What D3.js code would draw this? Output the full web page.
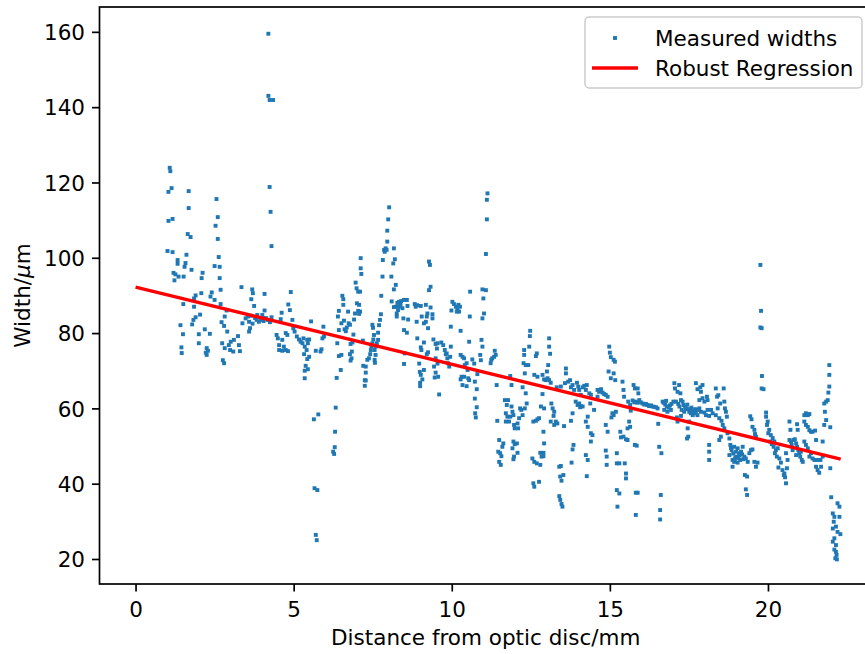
<!DOCTYPE html>
<html>
<head>
<meta charset="utf-8">
<script src="https://cdn.jsdelivr.net/npm/d3@7"></script>
<style>
  html, body { margin: 0; padding: 0; background: #fff; }
  svg text { font-family: "DejaVu Sans", sans-serif; fill: #000; }
</style>
</head>
<body>
<svg id="chart" width="865" height="654"></svg>
<script>
'use strict';

// ─── Дані (відстань від диска, мм ; ширина, мкм) ───
const segNear = [[1.08,123.9],[1.1,123],[1.14,118.5],[1.04,117.5],[1.68,117.7],[1.68,113.2],[1.04,109.8],[1.17,110.3],[1.65,106.3],[1.74,105.5],[2.56,115.6],[2.6,110.8],[2.53,108.5],[2.6,105],[1.01,101.8],[1.17,101.5],[1.33,99.4],[1.33,98.4],[1.58,98.6],[1.55,97.6],[1.61,100.8],[1.77,96.8],[1.2,96],[1.26,95.6],[1.36,95],[1.23,94],[1.52,95],[2.63,100.2],[2.5,97.8],[2.66,97.6],[2.66,94.6],[2.12,96],[2.09,94.6]];

const segDisc = [[2.08,90.6],[1.90,90.0],[1.85,89.2],[2.41,90.8],[2.37,89.7],[2.50,88.8],[2.69,91.5],[2.69,87.7],[2.88,86],[2.82,84.4],[1.85,87],[1.51,87.7],[1.42,82.1],[1.50,79.7],[1.83,83.5],[1.90,84.2],[2.04,84.9],[1.79,82.3],[2.19,81],[2.0,79.7],[2.35,79.8],[2.0,77.3],[1.45,76.2],[1.46,74.7],[2.25,76],[2.29,75.3],[2.22,74.8],[2.25,74.2],[2.72,82.9],[2.80,81.9],[2.9,80.4],[2.74,77.3],[2.82,76],[2.95,76.8],[3.01,77.7],[3.11,78.2],[3.24,79.2],[3.27,76.8],[3.30,75.2],[2.99,75.5],[3.09,75.1],[2.76,72.8],[2.80,72],[3.38,82.6],[3.48,83.9],[3.55,84.4],[3.59,83],[3.62,81.3],[3.59,80.4],[3.69,91.6],[3.71,90.6],[3.66,89],[3.75,87.2],[4.08,90.4],[4.08,86],[3.83,83.5],[3.96,83.5],[4.01,84.8],[3.90,83],[3.35,92.2],[3.65,84.6],[3.78,84],[3.85,84.8],[4.05,83.2],[4.12,84],[4.18,83.5],[4.25,82.9],[4.3,84.2],[3.7,82.5],[4.46,79.5],[4.50,78.6],[4.54,76.8],[4.64,78.2],[4.54,75.5],[4.64,75.3],[4.69,76.4],[4.75,75.5],[4.82,75.2],[4.75,80],[4.80,79.5],[4.62,85.4],[4.59,83.7],[4.83,87.6],[4.91,90.9],[4.88,86.1],[4.96,83.5],[4.99,81.3],[5.03,80.4],[5.10,79.1],[5.17,78.3],[5.22,77.7],[5.28,77.3],[5.31,78.6],[5.35,76.4],[5.43,78.2],[5.49,78.3],[5.45,77.3],[5.41,75.5],[5.33,74.4],[5.49,73.7],[5.43,73.1],[5.38,71.3],[5.45,70.4],[5.35,70],[5.35,68],[5.55,83.1],[5.70,75.3],[5.85,75.1],[5.88,75.7],[5.91,78.6],[5.94,81.7],[5.96,79.1],[5.64,57.1],[5.78,58.4],[5.66,38.8],[5.75,38.3],[5.70,26.4],[5.73,25]];

const segSpike = [[4.2,159.5],[4.2,143],[4.24,141.9],[4.35,141.9],[4.24,118.8],[4.27,112.2],[4.3,103.1]];

const segMid = [[6.36,68.1],[6.33,60.2],[6.49,70.2],[6.43,73.9],[6.51,74.2],[6.38,77.3],[6.43,80.8],[6.40,84.4],[6.43,85.9],[6.54,89.9],[6.57,89],[6.57,87.5],[6.51,82.6],[6.59,83.3],[6.61,81],[6.68,81.5],[6.72,85.7],[6.74,82.6],[6.78,82.2],[6.65,80.5],[6.89,79.6],[6.80,77.1],[6.86,77.5],[6.84,75.1],[6.83,73.3],[6.80,72.7],[6.78,74.4],[6.91,83.6],[6.94,85.2],[7.0,87.9],[7.07,87.5],[7.04,85.9],[7.1,85.7],[7.07,85.1],[6.96,93.4],[6.99,91.9],[7.04,91],[7.1,91],[7.12,99.9],[7.12,97.2],[7.14,95.7],[7.19,78],[7.2,71.3],[7.28,71.1],[7.28,69.5],[7.25,67.5],[7.28,67.4],[7.25,66],[7.33,72.9],[7.38,73.3],[7.42,74.4],[7.44,75.5],[7.46,76.4],[7.49,77.3],[7.52,78.3],[7.54,79.5],[7.56,75.5],[7.59,76.4],[7.63,77.3],[7.67,78.2],[7.59,74.2],[7.56,72.9],[7.57,72.1],[7.49,82.2],[7.51,81.4],[7.67,80.1],[7.7,82.1],[7.73,83.5],[7.76,85],[7.77,89.9],[7.81,95],[7.82,99.4],[7.86,102.1],[7.91,102.5],[7.88,101.6],[7.94,102.1],[7.96,104.3],[7.96,107.2],[7.99,110.2],[8.02,113.4],[8.09,95],[8.17,91.6],[8.15,98.5],[8.2,99.6],[8.17,102.5],[8.23,92.8],[8.1,88.4],[8.17,86.9],[8.23,87],[8.28,88],[8.33,87],[8.3,86.1],[8.26,85.2],[8.26,84.4],[8.38,87.5],[8.4,88.5],[8.44,86.6],[8.49,88.8],[8.58,88.8],[8.6,87.2],[8.33,88.3],[8.49,80.8],[8.58,80.1],[8.62,83.6],[8.47,83.9],[8.49,71.8],[8.51,74.6],[8.83,87.7],[8.91,87.4],[8.86,87],[9.02,87.2],[9.05,84.4],[9.18,87.5],[9.21,84.4],[9.23,85.2],[9.12,82.6],[9.18,83],[9.25,81.3],[8.89,83],[9.33,86.8],[9.39,85],[9.39,83.9],[9.28,99],[9.31,98.1],[9.28,91.4],[9.33,92.3],[8.91,78.6],[9.02,76.2],[9.04,75.5],[8.97,71.9],[8.99,69.7],[9.02,68.9],[9.0,66.8],[9.0,65.9],[9.12,77.5],[9.21,74.4],[9.25,74.9],[9.12,70.2],[9.07,67.7],[9.42,78.3],[9.49,77.1],[9.55,77.3],[9.53,75.9],[9.49,73.3],[9.55,71.9],[9.49,69.5],[9.46,68.2],[9.57,68.4],[9.44,71.1],[9.6,63.7],[9.67,77.5],[9.73,76.8],[9.78,75.5],[9.81,74.4],[9.86,73.3],[9.92,71.1],[9.84,74.6],[9.88,72],[9.97,76.4],[9.95,73.7],[10.02,88.3],[10.07,87.7],[10.13,87],[10.18,86.3],[10.21,87.5],[10.26,87],[10.23,85.7],[9.99,86],[10.16,85.7],[9.97,81.7],[10.28,80.6],[10.28,74.2],[10.34,73.7],[10.39,73.3],[10.47,72],[10.41,71.5],[10.5,70.2],[10.31,68.4],[10.34,66.2],[10.47,65.9],[10.28,67.7],[10.39,68.4],[10.52,68],[10.55,67.5],[10.58,91],[10.55,77.7],[10.57,84.4],[10.65,73],[10.71,71.9],[10.73,67.1],[10.73,62.6],[10.79,65.1],[10.79,60.3],[10.74,58.7],[10.76,57.6],[10.81,69.1],[10.92,72.8],[10.9,74.2],[10.97,76.4],[10.94,78.2],[10.97,83.9],[11.02,85.2],[11.0,89.2],[10.97,91.6],[11.08,91.4],[11.08,101],[11.11,110.2],[11.11,115.4],[11.13,117.1],[11.23,72],[11.25,72.9],[11.28,73.3],[11.34,73.7],[11.36,75.3],[11.39,74.2],[11.42,66.2],[11.44,56.7],[6.31,53.8],[6.3,49.7],[6.25,48.5],[6.28,47.9]];

const segFar = [[11.5,51.6],[11.47,48.5],[11.53,48.1],[11.57,47.3],[11.6,49.8],[11.63,50.7],[11.5,45.8],[11.55,45],[11.68,62.2],[11.74,60.9],[11.78,62.2],[11.71,58.7],[11.76,57.8],[11.71,56.5],[11.81,56.5],[11.85,57.8],[11.89,60.5],[11.92,59.1],[11.95,58.2],[11.97,55.6],[11.99,54.7],[12.08,56],[12.1,54.7],[12.13,57.4],[12.16,60],[12.2,59.6],[12.24,58.2],[11.95,51.2],[11.99,50.5],[12.06,50.7],[12.08,48.2],[11.97,47.2],[11.95,46.5],[11.92,49.4],[11.85,68.6],[11.89,66.2],[12.29,75.5],[12.29,74.2],[12.27,72],[12.34,71.5],[12.31,69.3],[12.42,71.5],[12.48,80.6],[12.47,79.2],[12.45,76.4],[12.24,65.6],[12.34,64],[12.37,61.3],[12.31,60],[12.58,56.5],[12.66,56.7],[12.71,57.1],[12.76,57.4],[12.55,46.7],[12.61,45.8],[12.69,45.4],[12.8,45],[12.84,47.2],[12.9,48.2],[12.58,40.1],[12.61,39.2],[12.76,40.5],[12.69,74.6],[12.66,73.9],[12.61,68.9],[12.71,68.4],[12.87,68.9],[12.92,67.7],[12.97,67.5],[13.03,68],[13.08,67.5],[13.13,66.8],[13.08,78.6],[13.08,76.4],[13.11,74.5],[13.05,71.5],[13.01,69.8],[12.82,60.5],[12.92,60],[12.87,63.8],[13.15,61.3],[13.19,60],[13.24,59.1],[13.22,58],[13.13,56.5],[12.9,53.8],[12.92,50.7],[12.8,48.2],[12.9,47.3],[13.29,56.5],[13.24,55.6],[13.34,56],[13.55,55.3],[13.4,44.5],[13.45,44.7],[13.43,41.9],[13.47,40.8],[13.53,42.3],[13.4,36.7],[13.43,35.7],[13.47,34.6],[13.5,33.9],[13.32,65.6],[13.45,65.8],[13.58,66.7],[13.61,70.6],[13.61,69.3],[13.68,67.1],[13.74,67.5],[13.77,65.6],[13.82,66.2],[13.87,64.9],[13.96,66.8],[14.0,65.8],[14.03,64.9],[14.08,63.6],[14.14,65.6],[14.19,66],[14.24,64.9],[14.27,66.2],[14.35,64],[14.4,63.6],[13.82,58.7],[13.77,56.7],[13.85,50.3],[13.82,49.1],[13.79,45.6],[13.92,61.8],[13.98,60.9],[14.03,61.3],[14.08,60.6],[14.06,60.3],[14.14,60.5],[14.3,57.8],[14.24,56.5],[14.3,55.1],[14.4,53.4],[14.45,52.9],[14.4,51.2],[14.24,47.6],[14.3,46.3],[14.27,42],[14.38,61.3],[14.5,59.6],[14.61,64.9],[14.66,64.4],[14.72,65.1],[14.77,64.2],[14.82,63.8],[14.61,63.1],[14.87,63.6],[14.93,63.1],[14.87,55.6],[14.93,53.8],[14.87,48.8],[14.9,47.2],[14.9,45],[14.98,76.4],[15.0,74.8],[15.03,73.6],[15.12,72.9],[15.16,72.4],[14.96,69.8],[15.03,68],[15.12,69.3],[15.17,67.5],[15.05,57.6],[15.12,58.2],[15.19,59.1],[15.08,58.7],[15.22,48.1],[15.22,45.4],[15.3,45.4],[15.33,53.8],[15.35,52.3],[15.43,52.5],[15.51,51.8],[15.56,51.6],[15.47,45.4],[15.51,42.7],[15.51,41.4],[15.22,38.3],[15.3,37.4],[15.24,33.9],[15.4,67.1],[15.43,64.9],[15.45,63.1],[15.58,61.8],[15.64,60.9],[15.66,59.4],[15.61,56.5],[15.64,55.1],[15.56,54.7],[15.75,66.2],[15.79,65.3],[15.88,65.3],[15.9,64],[15.72,62.1],[15.82,61.8],[15.93,62.2],[16.03,61.3],[16.14,61.2],[16.24,60.6],[16.35,60.5],[16.46,60.3],[16.51,60],[15.77,61.6],[15.87,61.5],[15.98,61.6],[16.09,61],[16.19,60.9],[16.3,60.8],[16.4,60.4],[15.79,50.3],[15.85,50.1],[15.82,37.6],[15.88,37.6],[15.82,31.7],[16.53,55.9],[16.56,49.8],[16.63,48.1],[16.61,37],[16.59,33],[16.59,30.5],[16.67,61.8],[16.72,59.6],[16.82,59.1],[16.93,59.6],[16.7,61.5],[16.75,61],[16.8,60.5],[16.86,60.2],[16.9,60.8],[16.95,61.2],[16.78,62]];

const segTail = [[17.04,66.7],[17.19,66.2],[17.06,65.3],[17.14,64.4],[17.23,64],[17.25,62.2],[17.01,61.8],[17.09,61.8],[17.16,61.2],[17.3,61.8],[17.33,60.9],[17.41,60],[17.27,59.6],[17.35,59.1],[17.46,59.8],[17.51,59.1],[17.56,58.7],[17.62,58.2],[17.67,58.7],[17.72,59.1],[17.77,58.2],[17.2,60.5],[17.38,60.3],[17.53,59.8],[17.6,59.4],[17.7,59.8],[17.45,61],[17.58,60.2],[17.46,54.7],[17.48,52.5],[17.44,52],[17.51,56.5],[17.14,56.5],[17.12,57.6],[17.25,58],[17.72,66.7],[17.77,65.1],[17.86,65.6],[17.93,66.2],[17.88,64.4],[17.83,62.2],[17.93,62.7],[17.99,61.8],[18.07,63.1],[18.09,62.2],[17.83,60],[17.77,59.6],[17.88,59.1],[17.99,58.9],[18.04,58.2],[18.09,59.6],[18.14,58],[18.2,59.6],[18.25,58.7],[18.14,50.3],[18.14,48.5],[18.14,46.3],[18.35,65.3],[18.39,63.1],[18.43,63.5],[18.49,61.3],[18.41,60],[18.35,58.2],[18.46,57.4],[18.53,56.7],[18.6,65.3],[18.62,61.8],[18.64,60],[18.67,59.1],[18.7,57.8],[18.57,55.6],[18.62,54.7],[18.46,51.6],[18.51,52.5],[18.72,53.4],[18.78,52],[18.81,50.3],[18.85,48.9],[18.78,47.6],[18.88,46.3],[18.93,49.8],[18.99,48.5],[19.04,49.4],[19.02,47.2],[19.09,48.1],[19.15,48.5],[19.2,49.8],[19.12,46.3],[18.93,45.8],[19.04,45.6],[18.88,44.5],[18.83,49.5],[18.9,48],[18.97,47],[19.06,46.8],[19.1,47.5],[19.18,47.8],[19.22,46.5],[18.95,46.5],[19.25,47.2],[19.3,46.7],[19.36,45.8],[19.41,48.1],[19.46,48.9],[19.51,49.1],[19.57,45.8],[19.62,44.5],[19.67,45.6],[19.27,42.3],[19.34,41.9],[19.3,38.5],[19.34,37],[19.44,57.9],[19.48,57.1],[19.51,55.1],[19.57,54.3],[19.59,53.2],[19.62,52.5]];

const segEnd = [[19.76,98.1],[19.78,85.9],[19.76,81.5],[19.8,81.3],[19.81,68.6],[19.8,65.3],[19.86,65.1],[19.94,58.9],[19.94,57.8],[19.99,56.5],[19.97,55.6],[20.04,54.3],[20.01,53.4],[20.09,52.9],[20.15,52.1],[20.07,51.2],[20.12,50.5],[20.2,51.2],[20.18,49.8],[20.25,48.9],[20.28,47.2],[20.36,46.7],[20.33,44.3],[20.41,45.6],[20.22,48.1],[20.31,49.4],[20.46,43.6],[20.52,42.7],[20.54,41.7],[20.57,40.1],[20.5,42.3],[20.6,44.1],[20.62,46.3],[20.57,48.1],[20.68,56.5],[20.71,54.3],[20.68,51.6],[20.73,51.2],[20.75,50.3],[20.81,51.6],[20.85,51.8],[20.89,50.7],[20.92,49.8],[20.96,48.9],[20.99,48.1],[21.02,47.2],[21.07,46.3],[21.1,45.8],[20.92,55.8],[20.94,54.3],[20.78,48.9],[20.89,47.6],[21.04,48.5],[21.15,58.2],[21.2,58.7],[21.26,58.2],[21.31,58.5],[21.15,56.5],[21.2,55.6],[21.26,55.1],[21.31,54.2],[21.36,53.8],[21.41,53.8],[21.49,54.1],[21.52,51.6],[21.15,51.2],[21.2,50.3],[21.26,49.4],[21.31,47.2],[21.36,48.1],[21.41,46.7],[21.47,46.3],[21.52,44.5],[21.57,43.6],[21.62,42.9],[21.68,44.5],[21.66,46.3],[21.73,47.2],[21.57,46.3],[21.73,51.2],[21.78,55.6],[21.84,56.9],[21.8,59.1],[21.78,61.3],[21.84,61.8],[21.89,62.2],[21.91,64.2],[21.94,65.8],[21.94,68.9],[21.94,71.5],[21.97,55],[21.97,44.1],[22.0,36.4],[22.2,34.8],[22.26,33.9],[22.05,32.1],[22.1,31.2],[22.26,31.2],[22.08,29.9],[22.15,28.6],[22.05,28.1],[22.2,27.2],[22.29,26.6],[22.1,25.5],[22.05,24.6],[22.15,23.7],[22.1,22.5],[22.15,21.9],[22.17,21.1],[22.13,20.2],[22.18,19.9]];

// Лінія робастної регресії (кінці)
const fitX = [0, 22.3];
const fitY = [92.2, 46.5];

const xTicks = [0, 5, 10, 15, 20];
const yTicks = [20, 40, 60, 80, 100, 120, 140, 160];

const seriesLabels = ['Measured widths', 'Robust Regression'];

// ─── Побудова ───
const FS = 21.5;
const BLUE = '#1f77b4';
const plot = { left: 99.5, right: 872, top: 7, bottom: 584 };

const measured = [].concat(segNear, segDisc, segSpike, segMid, segFar, segTail, segEnd);

const x = d3.scaleLinear().domain([-1.14, 23.29]).range([plot.left, plot.right]);
const y = d3.scaleLinear().domain([13.36, 166.6]).range([plot.bottom, plot.top]);

const svg = d3.select('#chart');
svg.append('rect').attr('width', 865).attr('height', 654).attr('fill', '#fff');

// точки
const M = 3.9;
svg.append('g').selectAll('rect').data(measured).join('rect')
  .attr('x', d => x(d[0]) - M / 2).attr('y', d => y(d[1]) - M / 2)
  .attr('width', M).attr('height', M).attr('fill', BLUE);

// регресія
const fit = fitX.map((v, i) => [v, fitY[i]]);
svg.append('path').datum(fit)
  .attr('d', d3.line().x(d => x(d[0])).y(d => y(d[1])))
  .attr('fill', 'none').attr('stroke', '#ff0000').attr('stroke-width', 3.3);

// осі
const xAxis = svg.append('g').attr('transform', `translate(0,${plot.bottom})`)
  .call(d3.axisBottom(x).tickValues(xTicks).tickSize(7.5).tickPadding(8).tickFormat(d3.format('d')));
const yAxis = svg.append('g').attr('transform', `translate(${plot.left},0)`)
  .call(d3.axisLeft(y).tickValues(yTicks).tickSize(7.5).tickPadding(7).tickFormat(d3.format('d')));
[xAxis, yAxis].forEach(a => {
  a.select('.domain').remove();
  a.selectAll('.tick line').attr('stroke', '#000').attr('stroke-width', 1.7);
  a.selectAll('.tick text').attr('font-size', FS).attr('font-family', '"DejaVu Sans", sans-serif').attr('fill', '#000');
});
xAxis.selectAll('.tick text').attr('dy', null).attr('y', 33);
yAxis.selectAll('.tick text').attr('dy', '0.36em');

// рамка
svg.append('rect')
  .attr('x', plot.left).attr('y', plot.top)
  .attr('width', plot.right - plot.left).attr('height', plot.bottom - plot.top)
  .attr('fill', 'none').attr('stroke', '#000').attr('stroke-width', 1.7);

// підписи осей
svg.append('text').attr('x', (plot.left + plot.right) / 2).attr('y', 645)
  .attr('text-anchor', 'middle').attr('font-size', FS).text('Distance from optic disc/mm');
const yl = svg.append('text')
  .attr('transform', `translate(30,${(plot.top + plot.bottom) / 2}) rotate(-90)`)
  .attr('text-anchor', 'middle').attr('font-size', FS);
yl.append('tspan').text('Width/');
yl.append('tspan').attr('font-style', 'italic').text('μ');
yl.append('tspan').text('m');

// легенда
const lg = svg.append('g');
lg.append('rect').attr('x', 585).attr('y', 17).attr('width', 277).attr('height', 71)
  .attr('rx', 4).attr('fill', '#fff').attr('fill-opacity', 0.8)
  .attr('stroke', '#cccccc').attr('stroke-width', 1.5);
lg.append('rect').attr('x', 615 - M / 2).attr('y', 38 - M / 2).attr('width', M).attr('height', M).attr('fill', BLUE);
lg.append('line').attr('x1', 592).attr('x2', 638).attr('y1', 68).attr('y2', 68)
  .attr('stroke', '#ff0000').attr('stroke-width', 3.3);
lg.append('text').attr('x', 655).attr('y', 45.5).attr('font-size', FS).text(seriesLabels[0]);
lg.append('text').attr('x', 655).attr('y', 76).attr('font-size', FS).text(seriesLabels[1]);
</script>
</body>
</html>
